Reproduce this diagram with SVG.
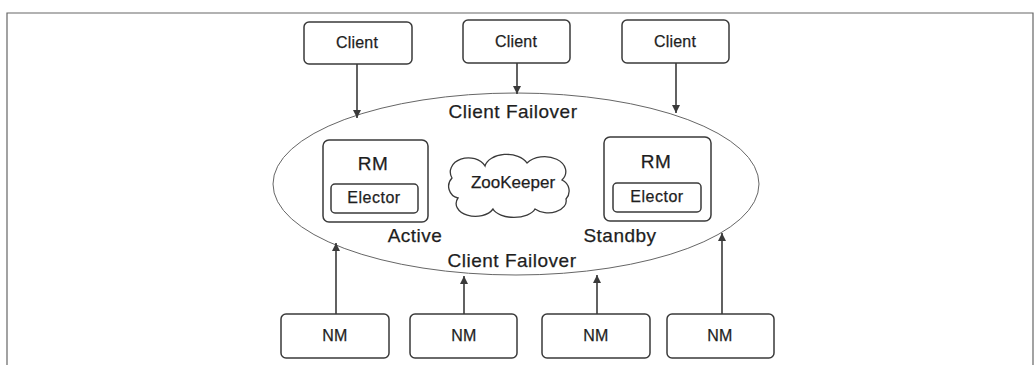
<svg xmlns="http://www.w3.org/2000/svg" width="1035" height="365" viewBox="0 0 1035 365">
<defs>
<style>
.box{fill:#fff;stroke:#3a3a3a;stroke-width:1.5}
.t{font-family:"Liberation Sans",Arial,sans-serif;fill:#1e1e1e;stroke:#1e1e1e;stroke-width:0.25;text-anchor:middle}
.s16{font-size:16px;letter-spacing:0.2px}
.s19{font-size:19px;letter-spacing:0.5px}
.el{font-size:16px;letter-spacing:0.5px}
.con{stroke:#3a3a3a;stroke-width:1.6;fill:none}
</style>
<marker id="ah" viewBox="0 0 10 10" refX="10" refY="5" markerWidth="9" markerHeight="8" markerUnits="userSpaceOnUse" orient="auto">
<path d="M0,0 L10,5 L0,10 Z" fill="#3a3a3a"/>
</marker>
</defs>
<rect width="1035" height="365" fill="#fff"/>
<path d="M7,370 L7,13 L1033,13 L1033,370" fill="none" stroke="#666" stroke-width="1.2"/>

<g id="cluster">
<ellipse cx="516" cy="184" rx="243" ry="91" fill="none" stroke="#666" stroke-width="1"/>
<text class="t s19" x="513" y="118">Client Failover</text>
<text class="t s19" x="512" y="267">Client Failover</text>
</g>

<g id="client1"><rect class="box" x="304" y="22" width="108" height="42" rx="5"/><text class="t s16" x="357" y="48">Client</text></g>
<g id="client2"><rect class="box" x="463" y="20" width="107" height="43" rx="5"/><text class="t s16" x="516" y="47">Client</text></g>
<g id="client3"><rect class="box" x="622" y="20" width="107" height="43" rx="5"/><text class="t s16" x="675" y="47">Client</text></g>

<g id="rm-active">
<rect class="box" x="323" y="140" width="105" height="82" rx="6"/>
<text class="t s19" x="373" y="170">RM</text>
<rect class="box" x="331" y="184" width="87" height="29" rx="4"/>
<text class="t el" x="374" y="203">Elector</text>
<text class="t s19" x="415" y="242">Active</text>
</g>

<g id="rm-standby">
<rect class="box" x="604" y="137" width="107" height="84" rx="6"/>
<text class="t s19" x="656" y="168">RM</text>
<rect class="box" x="613" y="183" width="88" height="29" rx="4"/>
<text class="t el" x="657" y="202">Elector</text>
<text class="t s19" x="620" y="242">Standby</text>
</g>

<g id="zookeeper">
<path d="M458,198 A12 12 0 0 1 452,178 A18 14 0 0 1 485,166 A22 14 0 0 1 527,163 A20 14 0 0 1 562,180 A12 12 0 0 1 566,199 A18 12 0 0 1 535,209 A22 12 0 0 1 493,209 A18 12 0 0 1 458,198 Z" fill="#fff" stroke="#3a3a3a" stroke-width="1.3"/>
<text class="t" style="font-size:17px" x="513" y="188">ZooKeeper</text>
</g>

<g id="nm1"><rect class="box" x="281" y="314" width="108" height="44" rx="5"/><text class="t s16" x="335" y="341">NM</text></g>
<g id="nm2"><rect class="box" x="410" y="314" width="107" height="44" rx="5"/><text class="t s16" x="464" y="341">NM</text></g>
<g id="nm3"><rect class="box" x="542" y="314" width="108" height="44" rx="5"/><text class="t s16" x="596" y="341">NM</text></g>
<g id="nm4"><rect class="box" x="667" y="314" width="107" height="44" rx="5"/><text class="t s16" x="720" y="341">NM</text></g>

<g id="connectors">
<line class="con" x1="357" y1="64" x2="357" y2="118" marker-end="url(#ah)"/>
<line class="con" x1="517" y1="63" x2="517" y2="94" marker-end="url(#ah)"/>
<line class="con" x1="676" y1="63" x2="676" y2="113" marker-end="url(#ah)"/>
<line class="con" x1="336" y1="314" x2="336" y2="243" marker-end="url(#ah)"/>
<line class="con" x1="464" y1="314" x2="464" y2="276" marker-end="url(#ah)"/>
<line class="con" x1="597" y1="314" x2="597" y2="275" marker-end="url(#ah)"/>
<line class="con" x1="722" y1="314" x2="722" y2="233" marker-end="url(#ah)"/>
</g>
</svg>
